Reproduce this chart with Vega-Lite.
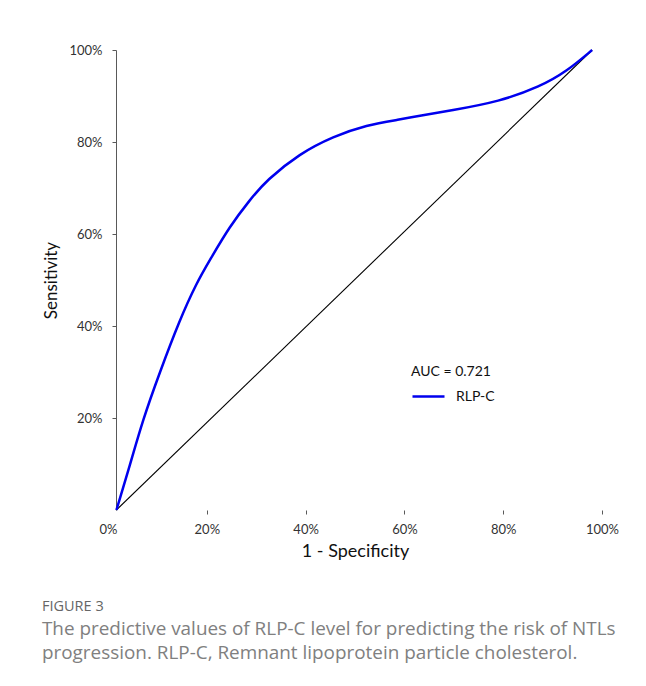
{
  "$schema": "https://vega.github.io/schema/vega-lite/v6.json",
  "width": 494,
  "height": 460,
  "autosize": {"type": "none"},
  "padding": {"left": 108, "top": 50, "right": 44, "bottom": 176},
  "background": "white",
  "config": {
    "view": {"stroke": null},
    "font": "Lato",
    "axis": {"grid": false, "domainColor": "#595959", "tickColor": "#595959", "labelColor": "#333333", "labelFont": "Lato", "labelFontSize": 13, "labelFlush": false, "titleFont": "Lato", "titleFontWeight": "normal", "titleColor": "#111111", "titleFontSize": 17}
  },
  "title": {
    "text": "FIGURE 3",
    "subtitle": ["The predictive values of RLP-C level for predicting the risk of NTLs", "progression. RLP-C, Remnant lipoprotein particle cholesterol."],
    "orient": "bottom",
    "anchor": "start",
    "dx": -1,
    "offset": 40,
    "font": "Open Sans",
    "fontSize": 14.5,
    "fontWeight": "normal",
    "color": "#666666",
    "subtitleFont": "Open Sans",
    "subtitleFontSize": 18.9,
    "subtitleColor": "#808080",
    "subtitleLineHeight": 24,
    "subtitlePadding": 5
  },
  "layer": [
    {
      "data": {"values": [{"fpr": 1.7, "tpr": 0}, {"fpr": 98, "tpr": 100}]},
      "mark": {"type": "line", "color": "black", "strokeWidth": 1.1},
      "encoding": {
        "x": {"field": "fpr", "type": "quantitative", "scale": {"domain": [0, 100], "nice": false, "zero": false},
          "axis": {"values": [0, 20, 40, 60, 80, 100], "labelExpr": "datum.value + '%'", "domain": false, "tickSize": 4, "labelPadding": 9, "title": "1 - Specificity", "titlePadding": 6, "titleFontSize": 18,
            "tickOpacity": {"condition": {"test": "datum.value == 0", "value": 0}, "value": 1}}},
        "y": {"field": "tpr", "type": "quantitative", "scale": {"domain": [0, 100], "nice": false},
          "axis": {"values": [20, 40, 60, 80, 100], "labelExpr": "datum.value + '%'", "offset": -8, "tickSize": 4, "labelPadding": 10, "title": "Sensitivity", "titlePadding": 8}}
      }
    },
    {
      "data": {"values": [
        {"fpr": 1.7, "tpr": 0, "series": "RLP-C"},
        {"fpr": 4.35, "tpr": 9.4, "series": "RLP-C"},
        {"fpr": 7.05, "tpr": 19.6, "series": "RLP-C"},
        {"fpr": 10.4, "tpr": 29.7, "series": "RLP-C"},
        {"fpr": 14.5, "tpr": 41.3, "series": "RLP-C"},
        {"fpr": 17.9, "tpr": 49.3, "series": "RLP-C"},
        {"fpr": 20.6, "tpr": 54.3, "series": "RLP-C"},
        {"fpr": 24.6, "tpr": 61.6, "series": "RLP-C"},
        {"fpr": 28.7, "tpr": 67.4, "series": "RLP-C"},
        {"fpr": 32.1, "tpr": 71.7, "series": "RLP-C"},
        {"fpr": 38.8, "tpr": 77.5, "series": "RLP-C"},
        {"fpr": 45.6, "tpr": 81.2, "series": "RLP-C"},
        {"fpr": 52.3, "tpr": 83.7, "series": "RLP-C"},
        {"fpr": 59.1, "tpr": 84.9, "series": "RLP-C"},
        {"fpr": 63.1, "tpr": 85.7, "series": "RLP-C"},
        {"fpr": 69.2, "tpr": 86.8, "series": "RLP-C"},
        {"fpr": 79.3, "tpr": 88.8, "series": "RLP-C"},
        {"fpr": 87.4, "tpr": 92.0, "series": "RLP-C"},
        {"fpr": 92.8, "tpr": 95.3, "series": "RLP-C"},
        {"fpr": 98, "tpr": 100, "series": "RLP-C"}
      ]},
      "mark": {"type": "line", "interpolate": "basis", "strokeWidth": 2.5},
      "encoding": {
        "x": {"field": "fpr", "type": "quantitative"},
        "y": {"field": "tpr", "type": "quantitative"},
        "color": {"field": "series", "type": "nominal", "scale": {"range": ["#0000ee"]},
          "legend": {"orient": "none", "legendX": 303, "legendY": 315, "title": "AUC = 0.721", "titleFont": "Lato", "titleFontSize": 14, "titleFontWeight": "normal", "titleColor": "#111111", "labelFont": "Lato", "labelFontSize": 14, "labelColor": "#111111", "symbolType": "stroke", "symbolSize": 1024, "symbolStrokeWidth": 2.5, "padding": 0, "titlePadding": 0, "labelOffset": 10}}
      }
    },
    {
      "mark": {"type": "rule", "color": "#595959", "strokeWidth": 1},
      "encoding": {
        "x": {"datum": 1.6},
        "x2": {"datum": 100},
        "y": {"datum": 0}
      }
    }
  ]
}
